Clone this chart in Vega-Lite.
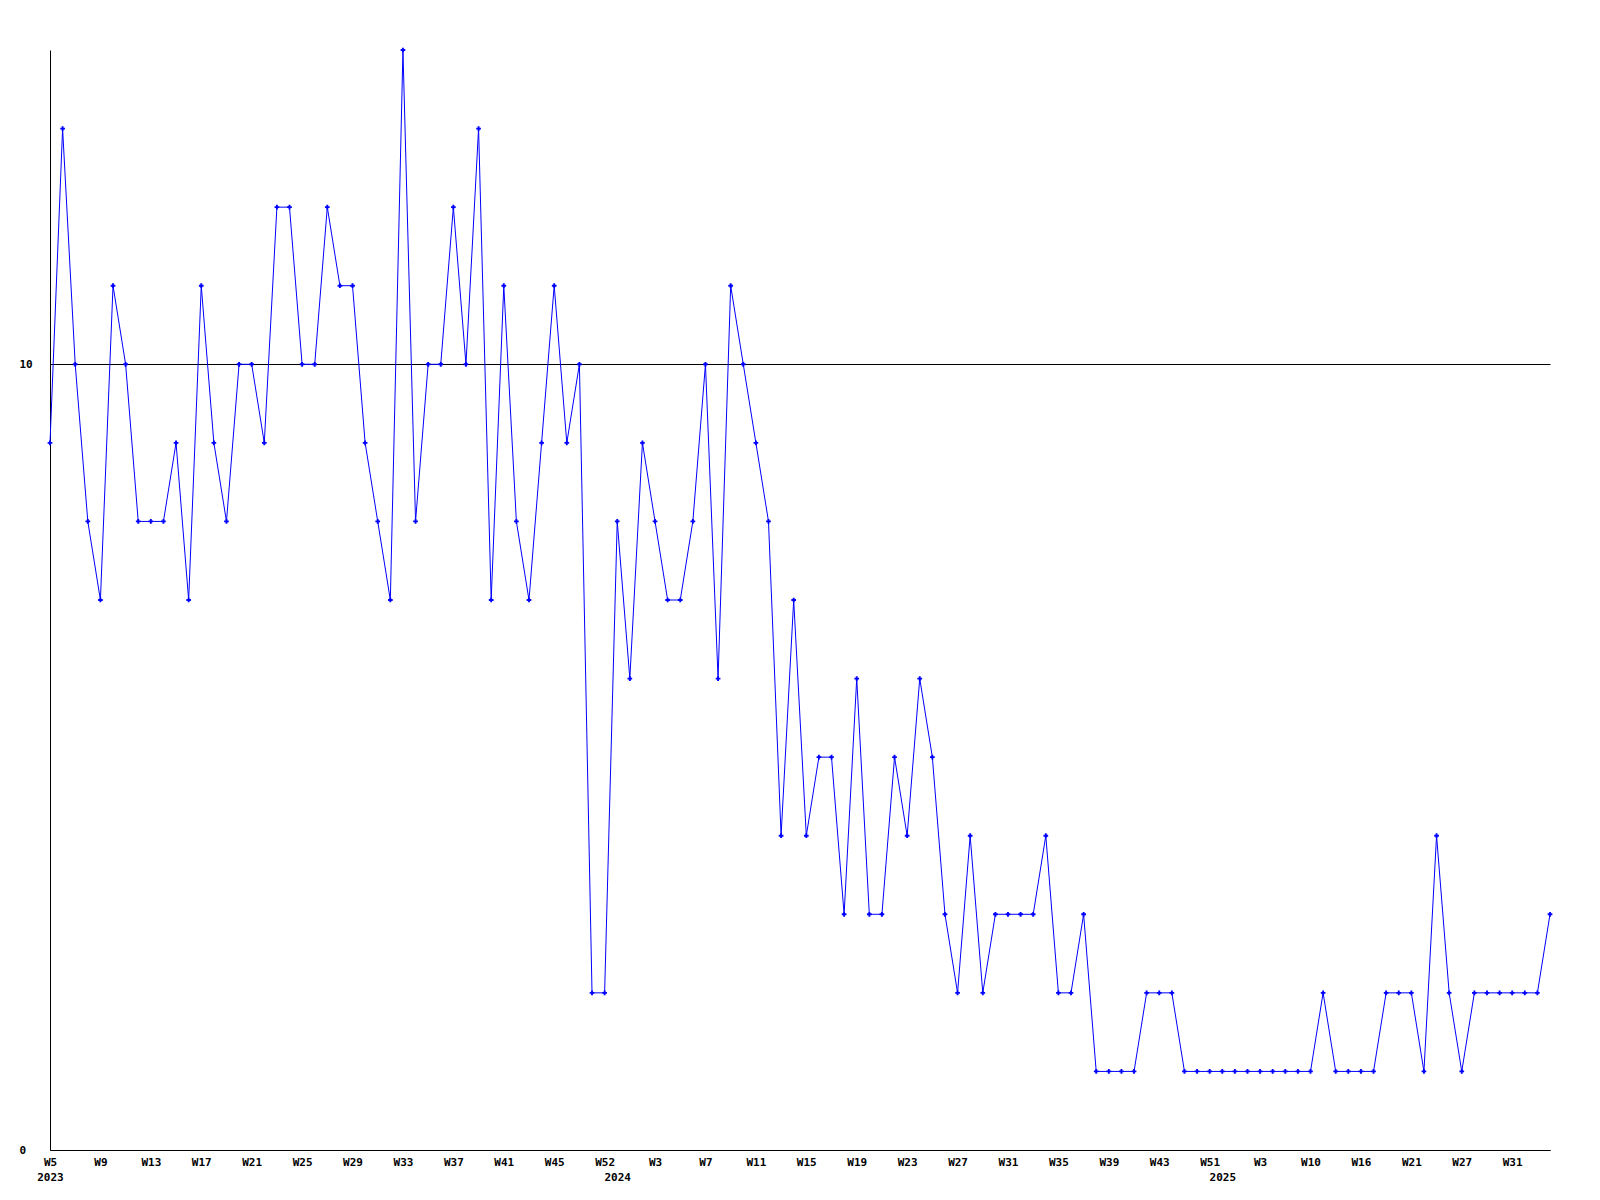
{
  "$schema": "https://vega.github.io/schema/vega-lite/v6.json",
  "autosize": {"type": "none"},
  "padding": {"left": 50, "top": 50, "right": 50, "bottom": 50},
  "width": 1500,
  "height": 1100,
  "background": "white",
  "config": {
    "view": {"stroke": null},
    "axis": {
      "labelFont": "DejaVu Sans Mono",
      "labelFontWeight": "bold",
      "labelFontSize": 11,
      "labelColor": "black",
      "domainColor": "black",
      "domainWidth": 1,
      "ticks": false,
      "tickSize": 0,
      "title": null
    }
  },
  "data": {
    "values": [
      {"wk": "2023-W05", "v": 9}, {"wk": "2023-W06", "v": 13}, {"wk": "2023-W07", "v": 10}, {"wk": "2023-W08", "v": 8},
      {"wk": "2023-W09", "v": 7}, {"wk": "2023-W10", "v": 11}, {"wk": "2023-W11", "v": 10}, {"wk": "2023-W12", "v": 8},
      {"wk": "2023-W13", "v": 8}, {"wk": "2023-W14", "v": 8}, {"wk": "2023-W15", "v": 9}, {"wk": "2023-W16", "v": 7},
      {"wk": "2023-W17", "v": 11}, {"wk": "2023-W18", "v": 9}, {"wk": "2023-W19", "v": 8}, {"wk": "2023-W20", "v": 10},
      {"wk": "2023-W21", "v": 10}, {"wk": "2023-W22", "v": 9}, {"wk": "2023-W23", "v": 12}, {"wk": "2023-W24", "v": 12},
      {"wk": "2023-W25", "v": 10}, {"wk": "2023-W26", "v": 10}, {"wk": "2023-W27", "v": 12}, {"wk": "2023-W28", "v": 11},
      {"wk": "2023-W29", "v": 11}, {"wk": "2023-W30", "v": 9}, {"wk": "2023-W31", "v": 8}, {"wk": "2023-W32", "v": 7},
      {"wk": "2023-W33", "v": 14}, {"wk": "2023-W34", "v": 8}, {"wk": "2023-W35", "v": 10}, {"wk": "2023-W36", "v": 10},
      {"wk": "2023-W37", "v": 12}, {"wk": "2023-W38", "v": 10}, {"wk": "2023-W39", "v": 13}, {"wk": "2023-W40", "v": 7},
      {"wk": "2023-W41", "v": 11}, {"wk": "2023-W42", "v": 8}, {"wk": "2023-W43", "v": 7}, {"wk": "2023-W44", "v": 9},
      {"wk": "2023-W45", "v": 11}, {"wk": "2023-W46", "v": 9}, {"wk": "2023-W48", "v": 10}, {"wk": "2023-W51", "v": 2},
      {"wk": "2023-W52", "v": 2}, {"wk": "2024-W00", "v": 8}, {"wk": "2024-W01", "v": 6}, {"wk": "2024-W02", "v": 9},
      {"wk": "2024-W03", "v": 8}, {"wk": "2024-W04", "v": 7}, {"wk": "2024-W05", "v": 7}, {"wk": "2024-W06", "v": 8},
      {"wk": "2024-W07", "v": 10}, {"wk": "2024-W08", "v": 6}, {"wk": "2024-W09", "v": 11}, {"wk": "2024-W10", "v": 10},
      {"wk": "2024-W11", "v": 9}, {"wk": "2024-W12", "v": 8}, {"wk": "2024-W13", "v": 4}, {"wk": "2024-W14", "v": 7},
      {"wk": "2024-W15", "v": 4}, {"wk": "2024-W16", "v": 5}, {"wk": "2024-W17", "v": 5}, {"wk": "2024-W18", "v": 3},
      {"wk": "2024-W19", "v": 6}, {"wk": "2024-W20", "v": 3}, {"wk": "2024-W21", "v": 3}, {"wk": "2024-W22", "v": 5},
      {"wk": "2024-W23", "v": 4}, {"wk": "2024-W24", "v": 6}, {"wk": "2024-W25", "v": 5}, {"wk": "2024-W26", "v": 3},
      {"wk": "2024-W27", "v": 2}, {"wk": "2024-W28", "v": 4}, {"wk": "2024-W29", "v": 2}, {"wk": "2024-W30", "v": 3},
      {"wk": "2024-W31", "v": 3}, {"wk": "2024-W32", "v": 3}, {"wk": "2024-W33", "v": 3}, {"wk": "2024-W34", "v": 4},
      {"wk": "2024-W35", "v": 2}, {"wk": "2024-W36", "v": 2}, {"wk": "2024-W37", "v": 3}, {"wk": "2024-W38", "v": 1},
      {"wk": "2024-W39", "v": 1}, {"wk": "2024-W40", "v": 1}, {"wk": "2024-W41", "v": 1}, {"wk": "2024-W42", "v": 2},
      {"wk": "2024-W43", "v": 2}, {"wk": "2024-W45", "v": 2}, {"wk": "2024-W47", "v": 1}, {"wk": "2024-W49", "v": 1},
      {"wk": "2024-W51", "v": 1}, {"wk": "2025-W00", "v": 1}, {"wk": "2025-W01", "v": 1}, {"wk": "2025-W02", "v": 1},
      {"wk": "2025-W03", "v": 1}, {"wk": "2025-W05", "v": 1}, {"wk": "2025-W07", "v": 1}, {"wk": "2025-W09", "v": 1},
      {"wk": "2025-W10", "v": 1}, {"wk": "2025-W12", "v": 2}, {"wk": "2025-W13", "v": 1}, {"wk": "2025-W15", "v": 1},
      {"wk": "2025-W16", "v": 1}, {"wk": "2025-W17", "v": 1}, {"wk": "2025-W18", "v": 2}, {"wk": "2025-W20", "v": 2},
      {"wk": "2025-W21", "v": 2}, {"wk": "2025-W22", "v": 1}, {"wk": "2025-W24", "v": 4}, {"wk": "2025-W26", "v": 2},
      {"wk": "2025-W27", "v": 1}, {"wk": "2025-W28", "v": 2}, {"wk": "2025-W29", "v": 2}, {"wk": "2025-W30", "v": 2},
      {"wk": "2025-W31", "v": 2}, {"wk": "2025-W32", "v": 2}, {"wk": "2025-W33", "v": 2}, {"wk": "2025-W34", "v": 3}
    ]
  },
  "encoding": {
    "x": {
      "field": "wk",
      "type": "ordinal",
      "sort": null,
      "scale": {"type": "point", "padding": 0},
      "axis": {
        "values": ["2023-W05", "2023-W09", "2023-W13", "2023-W17", "2023-W21", "2023-W25", "2023-W29", "2023-W33", "2023-W37", "2023-W41", "2023-W45", "2023-W52", "2024-W00", "2024-W03", "2024-W07", "2024-W11", "2024-W15", "2024-W19", "2024-W23", "2024-W27", "2024-W31", "2024-W35", "2024-W39", "2024-W43", "2024-W51", "2025-W00", "2025-W03", "2025-W10", "2025-W16", "2025-W21", "2025-W27", "2025-W31"],
        "labelExpr": "datum.value == '2023-W05' ? ['W5\u00a0', '2023'] : (substring(datum.value, 6) == '00' ? ['\u00a0', substring(datum.value, 0, 4)] : 'W' + toNumber(substring(datum.value, 6)) + '\u00a0')",
        "labelAngle": 0,
        "labelAlign": "center",
        "labelBaseline": "top",
        "labelPadding": 6,
        "labelLineHeight": 15,
        "labelOverlap": false,
        "labelBound": false,
        "labelFlush": false,
        "grid": false
      }
    },
    "y": {
      "field": "v",
      "type": "quantitative",
      "scale": {"domain": [0, 14], "nice": false, "zero": true},
      "axis": {
        "values": [0, 10],
        "grid": true,
        "gridColor": "black",
        "gridOpacity": 1,
        "gridWidth": 1,
        "labelAlign": "left",
        "labelBaseline": "middle",
        "labelPadding": 31
      }
    }
  },
  "layer": [
    {"mark": {"type": "line", "color": "#0000ff", "strokeWidth": 1, "interpolate": "linear"}},
    {"mark": {"type": "point", "shape": "cross", "size": 22, "filled": true, "color": "#0000ff", "opacity": 1}}
  ]
}
